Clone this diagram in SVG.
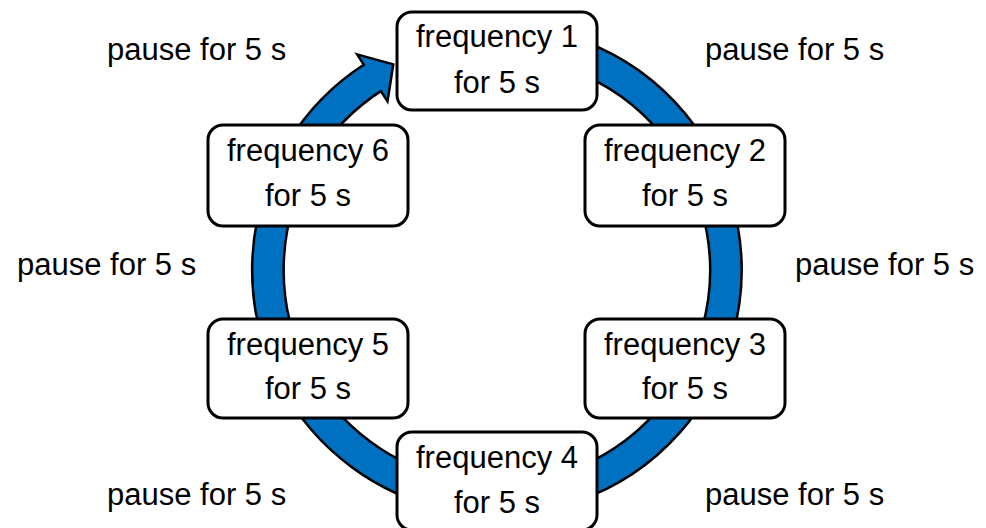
<svg xmlns="http://www.w3.org/2000/svg" width="986" height="528" viewBox="0 0 986 528">
<style>
.box{fill:#fff;stroke:#000;stroke-width:3}
.t{font-family:"Liberation Sans",Arial,sans-serif;font-size:31px;fill:#000}
.c{text-anchor:middle}
</style>
<rect width="986" height="528" fill="#fff"/>
<g id="connectors">
<path d="M 477.0 41.9 A 229 229 0 1 1 372.3 77.9" fill="none" stroke="#000" stroke-width="34"/>
<polygon points="357.1,54.4 393.3,64.3 387.5,101.4" fill="#0070C0" stroke="#000" stroke-width="2.5" stroke-linejoin="miter"/>
<path d="M 477.0 41.9 A 229 229 0 1 1 375.6 75.8" fill="none" stroke="#0070C0" stroke-width="29"/>
</g>
<g id="f1"><rect class="box" x="397" y="12" width="200" height="98" rx="15"/><text class="t c" x="497" y="47">frequency 1</text><text class="t c" x="497" y="93">for 5 s</text></g>
<g id="f2"><rect class="box" x="585" y="125" width="200" height="101" rx="15"/><text class="t c" x="685" y="161">frequency 2</text><text class="t c" x="685" y="206">for 5 s</text></g>
<g id="f3"><rect class="box" x="585" y="319" width="200" height="99" rx="15"/><text class="t c" x="685" y="355">frequency 3</text><text class="t c" x="685" y="399">for 5 s</text></g>
<g id="f4"><rect class="box" x="397" y="432" width="200" height="98" rx="15"/><text class="t c" x="497" y="468">frequency 4</text><text class="t c" x="497" y="513">for 5 s</text></g>
<g id="f5"><rect class="box" x="208" y="319" width="200" height="99" rx="15"/><text class="t c" x="308" y="355">frequency 5</text><text class="t c" x="308" y="399">for 5 s</text></g>
<g id="f6"><rect class="box" x="208" y="125" width="200" height="101" rx="15"/><text class="t c" x="308" y="161">frequency 6</text><text class="t c" x="308" y="206">for 5 s</text></g>
<g id="labels">
<text class="t" x="107" y="60">pause for 5 s</text>
<text class="t" x="705" y="60">pause for 5 s</text>
<text class="t" x="17" y="275">pause for 5 s</text>
<text class="t" x="795" y="275">pause for 5 s</text>
<text class="t" x="107" y="505">pause for 5 s</text>
<text class="t" x="705" y="505">pause for 5 s</text>
</g>
</svg>
